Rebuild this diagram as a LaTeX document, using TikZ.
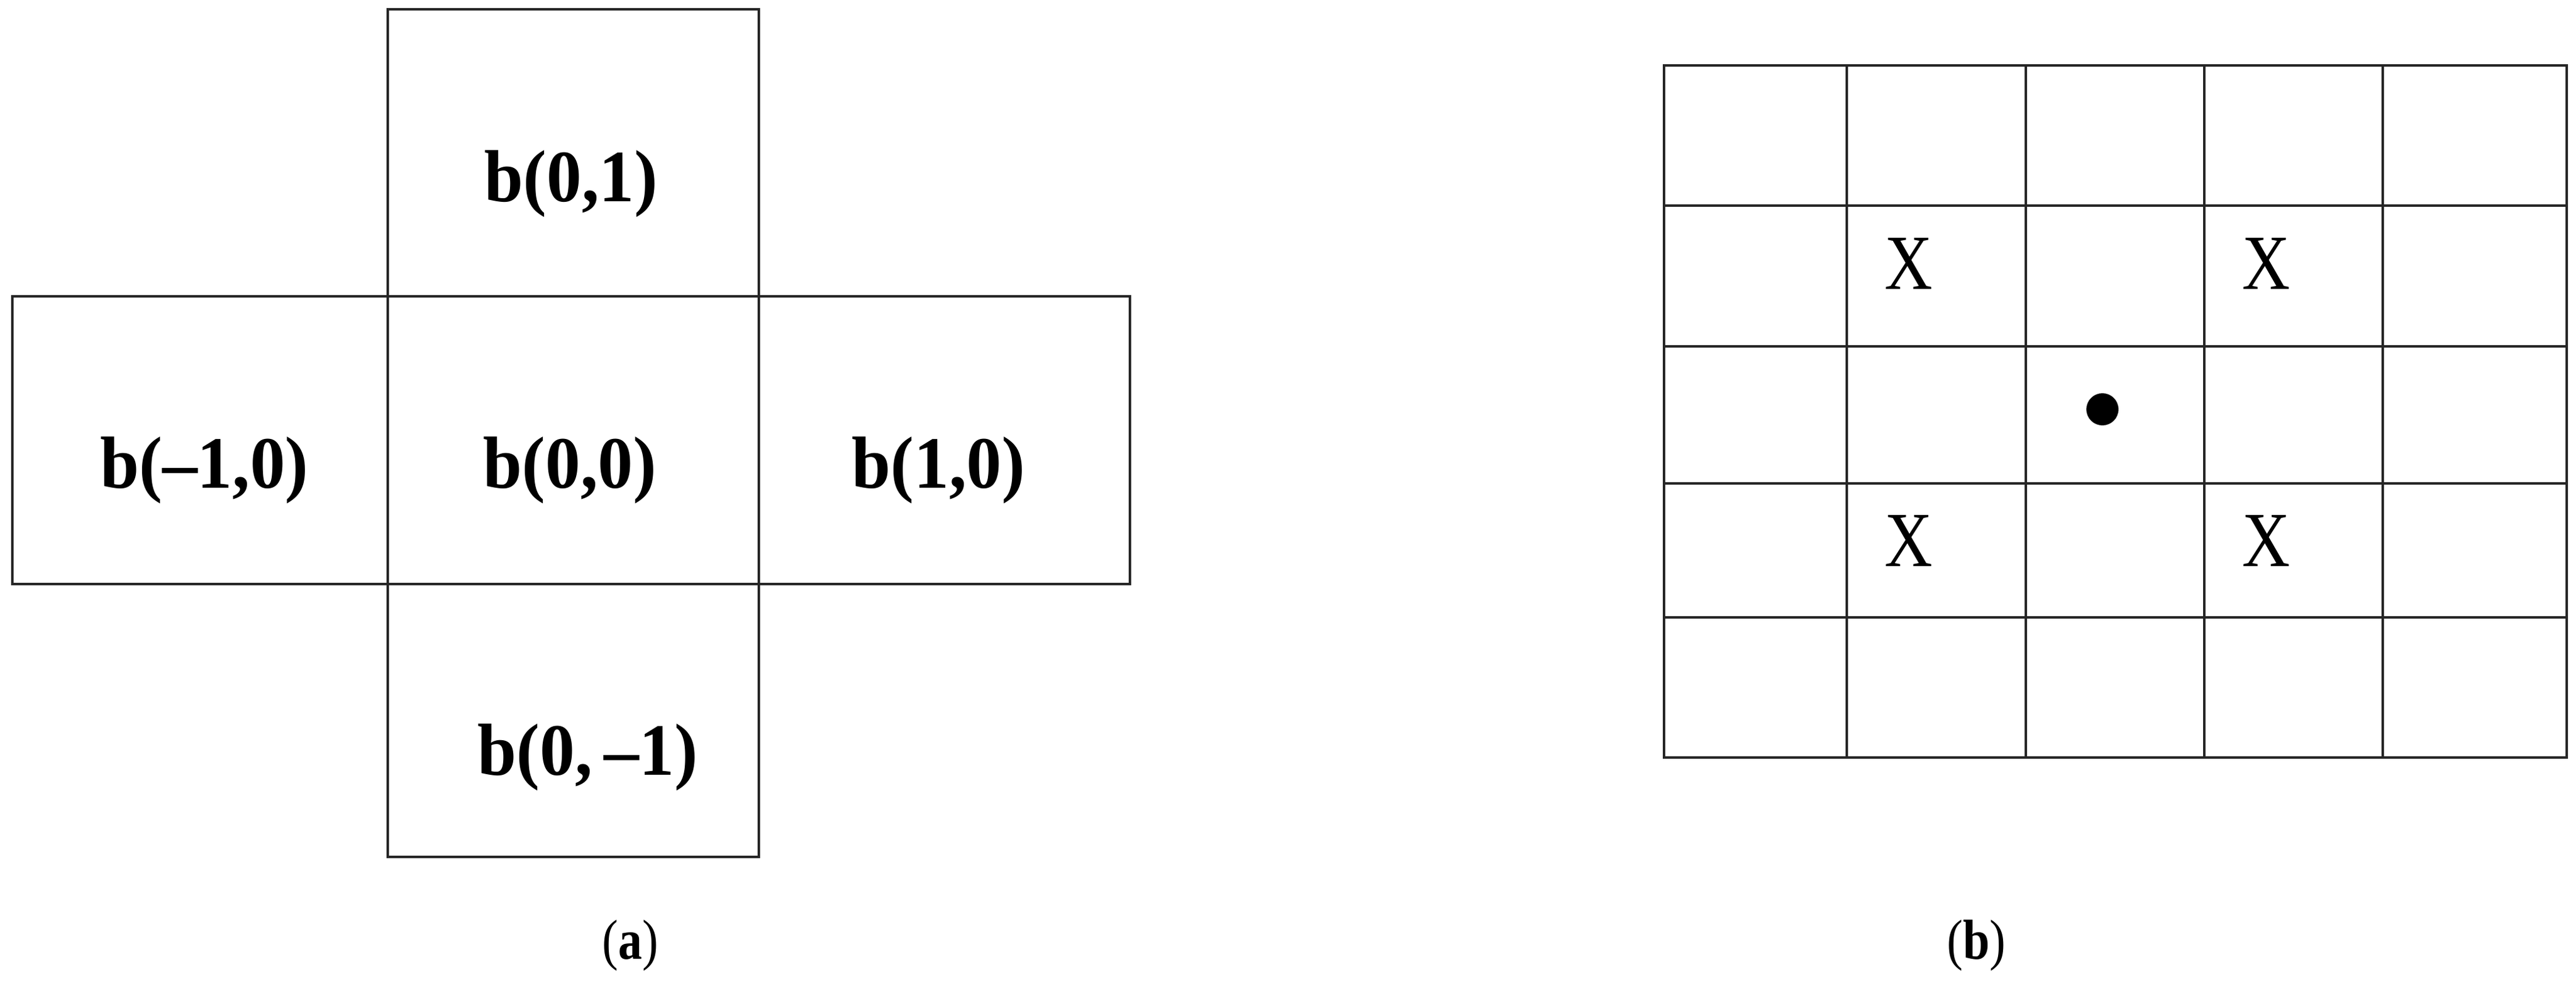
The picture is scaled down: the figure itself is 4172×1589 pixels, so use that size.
\documentclass[tikz,border=0pt]{standalone}
\usepackage{fontspec}
\setmainfont{Liberation Serif}
\usepackage{graphicx}
\begin{document}
\begin{tikzpicture}[x=0.1mm,y=-0.1mm,
  cell/.style={draw=black!85, line width=1.3pt, line join=miter},
  lbl/.style={anchor=base, inner sep=0pt, font=\fontsize{34}{40}\selectfont\bfseries},
  xmk/.style={anchor=base, inner sep=0pt, font=\fontsize{36}{42}\selectfont},
  captext/.style={anchor=base, inner sep=0pt, font=\fontsize{26}{30}\selectfont},
  dotnode/.style={circle, fill=black, inner sep=0pt, minimum size=5.2mm}
]
\useasboundingbox (0,0) rectangle (4172,1589);

% ---------- (a) cross of cells ----------
\draw[cell] (628,15) rectangle (1229,480);
\draw[cell] (20,480) rectangle (1830,946);
\draw[cell] (628,480) -- (628,946) (1229,480) -- (1229,946);
\draw[cell] (628,946) rectangle (1229,1388);

\node[lbl] (b01)  at (925,326)  {\scalebox{0.95}[1]{b(0,1)}};
\node[lbl] (bm10) at (331,790)  {\scalebox{0.95}[1]{b(--1,0)}};
\node[lbl] (b00)  at (923,790)  {\scalebox{0.95}[1]{b(0,0)}};
\node[lbl] (b10)  at (1520,790) {\scalebox{0.95}[1]{b(1,0)}};
\node[lbl] (b0m1) at (952,1255) {\scalebox{0.95}[1]{b(0,\,--1)}};

\node[captext] (capa) at (1021,1553) {\scalebox{0.85}[1]{(\textbf{a})}};

% ---------- (b) 5x5 grid ----------
\draw[cell] (2695,106) rectangle (4157,1227);
\foreach \xx in {2991,3281,3570,3859} \draw[cell] (\xx,106) -- (\xx,1227);
\foreach \yy in {333,561,783,1000} \draw[cell] (2695,\yy) -- (4157,\yy);

\node[xmk] (x1) at (3091,468) {\scalebox{0.85}[1]{X}};
\node[xmk] (x2) at (3670,468) {\scalebox{0.85}[1]{X}};
\node[xmk] (x3) at (3091,917) {\scalebox{0.85}[1]{X}};
\node[xmk] (x4) at (3670,917) {\scalebox{0.85}[1]{X}};
\node[dotnode] (dot) at (3405,663) {};

\node[captext] (capb) at (3201,1553) {\scalebox{0.85}[1]{(\textbf{b})}};
\end{tikzpicture}
\end{document}
